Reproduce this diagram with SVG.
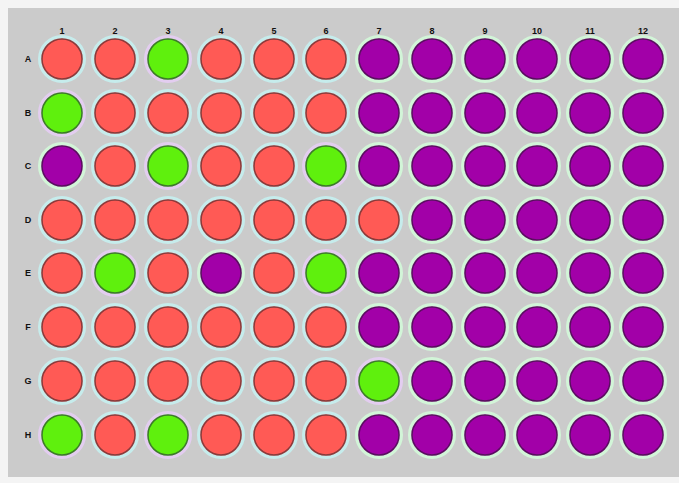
<svg xmlns="http://www.w3.org/2000/svg" xmlns:xlink="http://www.w3.org/1999/xlink" width="679" height="483" viewBox="0 0 679 483">
<defs>
<style>
.lbl{font-family:"Liberation Sans",Arial,sans-serif;font-size:9px;font-weight:bold;fill:#111;text-anchor:middle}
.r{fill:#FF5A55;stroke:#8a3a3a;stroke-width:1.5}
.g{fill:#5EF00C;stroke:#3d7a2a;stroke-width:1.5}
.p{fill:#A200A8;stroke:#5a1060;stroke-width:1.5}
.hr{fill:none;stroke:#c6ecec;stroke-width:3}
.hg{fill:none;stroke:#e3cdf0;stroke-width:3}
.hp{fill:none;stroke:#d2f5d8;stroke-width:3}
</style>
<filter id="soft" x="-20%" y="-20%" width="140%" height="140%"><feGaussianBlur stdDeviation="0.7"/></filter>
<g id="R"><circle r="22.5" class="hr"/><circle r="20" class="r"/></g>
<g id="G"><circle r="22.5" class="hg"/><circle r="20" class="g"/></g>
<g id="P"><circle r="22.5" class="hp"/><circle r="20" class="p"/></g>
</defs>
<rect width="679" height="483" fill="#f4f4f4"/>
<rect x="8" y="8" width="671" height="469" fill="#cbcbcb"/>
<g id="labels">
<text class="lbl" x="62" y="34">1</text><text class="lbl" x="115" y="34">2</text><text class="lbl" x="168" y="34">3</text><text class="lbl" x="221" y="34">4</text><text class="lbl" x="274" y="34">5</text><text class="lbl" x="326" y="34">6</text><text class="lbl" x="379" y="34">7</text><text class="lbl" x="432" y="34">8</text><text class="lbl" x="485" y="34">9</text><text class="lbl" x="537" y="34">10</text><text class="lbl" x="590" y="34">11</text><text class="lbl" x="643" y="34">12</text>
<text class="lbl" x="28" y="62">A</text><text class="lbl" x="28" y="116">B</text><text class="lbl" x="28" y="169">C</text><text class="lbl" x="28" y="223">D</text><text class="lbl" x="28" y="276">E</text><text class="lbl" x="28" y="330">F</text><text class="lbl" x="28" y="384">G</text><text class="lbl" x="28" y="438">H</text>
</g>
<g id="wells" filter="url(#soft)">
<g id="A1"><use xlink:href="#R" x="62" y="59"/></g><g id="A2"><use xlink:href="#R" x="115" y="59"/></g><g id="A3"><use xlink:href="#G" x="168" y="59"/></g><g id="A4"><use xlink:href="#R" x="221" y="59"/></g><g id="A5"><use xlink:href="#R" x="274" y="59"/></g><g id="A6"><use xlink:href="#R" x="326" y="59"/></g><g id="A7"><use xlink:href="#P" x="379" y="59"/></g><g id="A8"><use xlink:href="#P" x="432" y="59"/></g><g id="A9"><use xlink:href="#P" x="485" y="59"/></g><g id="A10"><use xlink:href="#P" x="537" y="59"/></g><g id="A11"><use xlink:href="#P" x="590" y="59"/></g><g id="A12"><use xlink:href="#P" x="643" y="59"/></g>
<g id="B1"><use xlink:href="#G" x="62" y="113"/></g><g id="B2"><use xlink:href="#R" x="115" y="113"/></g><g id="B3"><use xlink:href="#R" x="168" y="113"/></g><g id="B4"><use xlink:href="#R" x="221" y="113"/></g><g id="B5"><use xlink:href="#R" x="274" y="113"/></g><g id="B6"><use xlink:href="#R" x="326" y="113"/></g><g id="B7"><use xlink:href="#P" x="379" y="113"/></g><g id="B8"><use xlink:href="#P" x="432" y="113"/></g><g id="B9"><use xlink:href="#P" x="485" y="113"/></g><g id="B10"><use xlink:href="#P" x="537" y="113"/></g><g id="B11"><use xlink:href="#P" x="590" y="113"/></g><g id="B12"><use xlink:href="#P" x="643" y="113"/></g>
<g id="C1"><use xlink:href="#P" x="62" y="166"/></g><g id="C2"><use xlink:href="#R" x="115" y="166"/></g><g id="C3"><use xlink:href="#G" x="168" y="166"/></g><g id="C4"><use xlink:href="#R" x="221" y="166"/></g><g id="C5"><use xlink:href="#R" x="274" y="166"/></g><g id="C6"><use xlink:href="#G" x="326" y="166"/></g><g id="C7"><use xlink:href="#P" x="379" y="166"/></g><g id="C8"><use xlink:href="#P" x="432" y="166"/></g><g id="C9"><use xlink:href="#P" x="485" y="166"/></g><g id="C10"><use xlink:href="#P" x="537" y="166"/></g><g id="C11"><use xlink:href="#P" x="590" y="166"/></g><g id="C12"><use xlink:href="#P" x="643" y="166"/></g>
<g id="D1"><use xlink:href="#R" x="62" y="220"/></g><g id="D2"><use xlink:href="#R" x="115" y="220"/></g><g id="D3"><use xlink:href="#R" x="168" y="220"/></g><g id="D4"><use xlink:href="#R" x="221" y="220"/></g><g id="D5"><use xlink:href="#R" x="274" y="220"/></g><g id="D6"><use xlink:href="#R" x="326" y="220"/></g><g id="D7"><use xlink:href="#R" x="379" y="220"/></g><g id="D8"><use xlink:href="#P" x="432" y="220"/></g><g id="D9"><use xlink:href="#P" x="485" y="220"/></g><g id="D10"><use xlink:href="#P" x="537" y="220"/></g><g id="D11"><use xlink:href="#P" x="590" y="220"/></g><g id="D12"><use xlink:href="#P" x="643" y="220"/></g>
<g id="E1"><use xlink:href="#R" x="62" y="273"/></g><g id="E2"><use xlink:href="#G" x="115" y="273"/></g><g id="E3"><use xlink:href="#R" x="168" y="273"/></g><g id="E4"><use xlink:href="#P" x="221" y="273"/></g><g id="E5"><use xlink:href="#R" x="274" y="273"/></g><g id="E6"><use xlink:href="#G" x="326" y="273"/></g><g id="E7"><use xlink:href="#P" x="379" y="273"/></g><g id="E8"><use xlink:href="#P" x="432" y="273"/></g><g id="E9"><use xlink:href="#P" x="485" y="273"/></g><g id="E10"><use xlink:href="#P" x="537" y="273"/></g><g id="E11"><use xlink:href="#P" x="590" y="273"/></g><g id="E12"><use xlink:href="#P" x="643" y="273"/></g>
<g id="F1"><use xlink:href="#R" x="62" y="327"/></g><g id="F2"><use xlink:href="#R" x="115" y="327"/></g><g id="F3"><use xlink:href="#R" x="168" y="327"/></g><g id="F4"><use xlink:href="#R" x="221" y="327"/></g><g id="F5"><use xlink:href="#R" x="274" y="327"/></g><g id="F6"><use xlink:href="#R" x="326" y="327"/></g><g id="F7"><use xlink:href="#P" x="379" y="327"/></g><g id="F8"><use xlink:href="#P" x="432" y="327"/></g><g id="F9"><use xlink:href="#P" x="485" y="327"/></g><g id="F10"><use xlink:href="#P" x="537" y="327"/></g><g id="F11"><use xlink:href="#P" x="590" y="327"/></g><g id="F12"><use xlink:href="#P" x="643" y="327"/></g>
<g id="G1"><use xlink:href="#R" x="62" y="381"/></g><g id="G2"><use xlink:href="#R" x="115" y="381"/></g><g id="G3"><use xlink:href="#R" x="168" y="381"/></g><g id="G4"><use xlink:href="#R" x="221" y="381"/></g><g id="G5"><use xlink:href="#R" x="274" y="381"/></g><g id="G6"><use xlink:href="#R" x="326" y="381"/></g><g id="G7"><use xlink:href="#G" x="379" y="381"/></g><g id="G8"><use xlink:href="#P" x="432" y="381"/></g><g id="G9"><use xlink:href="#P" x="485" y="381"/></g><g id="G10"><use xlink:href="#P" x="537" y="381"/></g><g id="G11"><use xlink:href="#P" x="590" y="381"/></g><g id="G12"><use xlink:href="#P" x="643" y="381"/></g>
<g id="H1"><use xlink:href="#G" x="62" y="435"/></g><g id="H2"><use xlink:href="#R" x="115" y="435"/></g><g id="H3"><use xlink:href="#G" x="168" y="435"/></g><g id="H4"><use xlink:href="#R" x="221" y="435"/></g><g id="H5"><use xlink:href="#R" x="274" y="435"/></g><g id="H6"><use xlink:href="#R" x="326" y="435"/></g><g id="H7"><use xlink:href="#P" x="379" y="435"/></g><g id="H8"><use xlink:href="#P" x="432" y="435"/></g><g id="H9"><use xlink:href="#P" x="485" y="435"/></g><g id="H10"><use xlink:href="#P" x="537" y="435"/></g><g id="H11"><use xlink:href="#P" x="590" y="435"/></g><g id="H12"><use xlink:href="#P" x="643" y="435"/></g>
</g>
</svg>
